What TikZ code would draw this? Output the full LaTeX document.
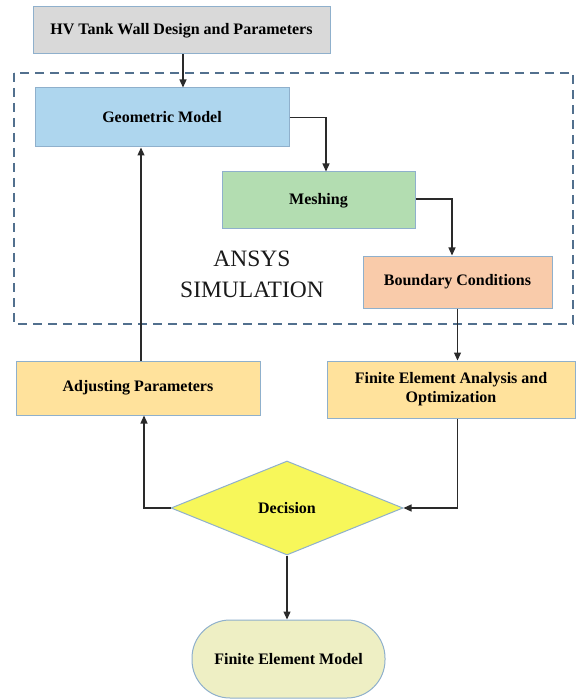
\documentclass[tikz,border=0pt]{standalone}
\usepackage{fontspec}
\setmainfont{Liberation Serif}
\usetikzlibrary{shapes.geometric,calc,arrows.meta}
\definecolor{bordc}{HTML}{8FB0CC}
\definecolor{grayf}{HTML}{D9D9D9}
\definecolor{bluef}{HTML}{AED6EE}
\definecolor{greenf}{HTML}{B3DDB1}
\definecolor{orangef}{HTML}{F9CBAA}
\definecolor{yellowf}{HTML}{FFE29C}
\definecolor{diaf}{HTML}{F7F75A}
\definecolor{femf}{HTML}{EEEFC4}
\definecolor{dashc}{HTML}{52708E}
\definecolor{linec}{HTML}{2A2A2A}
\tikzset{
  box/.style={draw=bordc, line width=1pt, rectangle, inner sep=0pt, align=center,
    font=\fontsize{16}{19}\selectfont\bfseries, text=black},
  arr/.style={draw=linec, line width=1.2pt, -{Triangle[length=8pt,width=7pt]}},
}
\begin{document}
\begin{tikzpicture}[x=1pt,y=-1pt]
\useasboundingbox (0,0) rectangle (575,700);
% dashed region
\draw[dashc, line width=1.6pt, dash pattern=on 9pt off 6pt] (14,73) rectangle (573,324);
\node[font=\fontsize{23.5}{31}\selectfont, align=center, text=black!90] (ansys) at (252,274) {ANSYS\\SIMULATION};
% nodes
\node[box, fill=grayf, minimum width=297pt, minimum height=47pt] (top) at (181.5,30.5) {HV Tank Wall Design and Parameters};
\node[box, fill=bluef, minimum width=254pt, minimum height=59pt] (GM) at (162,117.5) {Geometric Model};
\node[box, fill=greenf, minimum width=193pt, minimum height=57pt] (Mesh) at (318.5,200.5) {Meshing};
\node[box, fill=orangef, minimum width=189pt, minimum height=52pt] (BC) at (457.5,282) {Boundary Conditions};
\node[box, fill=yellowf, minimum width=244pt, minimum height=54pt] (AP) at (138,388) {Adjusting Parameters};
\node[box, fill=yellowf, minimum width=248pt, minimum height=57pt] (FEA) at (451,389.5) {Finite Element Analysis and\\Optimization};
\node[box, diamond, fill=diaf, minimum width=232pt, minimum height=94pt] (Dia) at (287,508) {Decision};
\node[box, fill=femf, rounded corners=38pt, minimum width=193pt, minimum height=78pt] (FEM) at (288.5,659) {Finite Element Model};
% connectors
\draw[arr] ([xshift=1.5pt]top.south) -- ([xshift=1.5pt]top.south |- GM.north);
\draw[arr] (GM.east) -| ([xshift=7.5pt]Mesh.north);
\draw[arr] ([yshift=1.5pt]Mesh.east) -| ([xshift=-5.5pt]BC.north);
\draw[arr] (BC.south) -- (BC.south |- FEA.north);
\draw[arr] (BC.south |- FEA.south) |- (Dia.east);
\draw[arr] (Dia.west) -| ([xshift=6pt]AP.south);
\draw[arr] ([xshift=3pt]AP.north) -- ([xshift=3pt]AP.north |- GM.south);
\draw[arr] (Dia.south) -- (Dia.south |- FEM.north);
\end{tikzpicture}
\end{document}
